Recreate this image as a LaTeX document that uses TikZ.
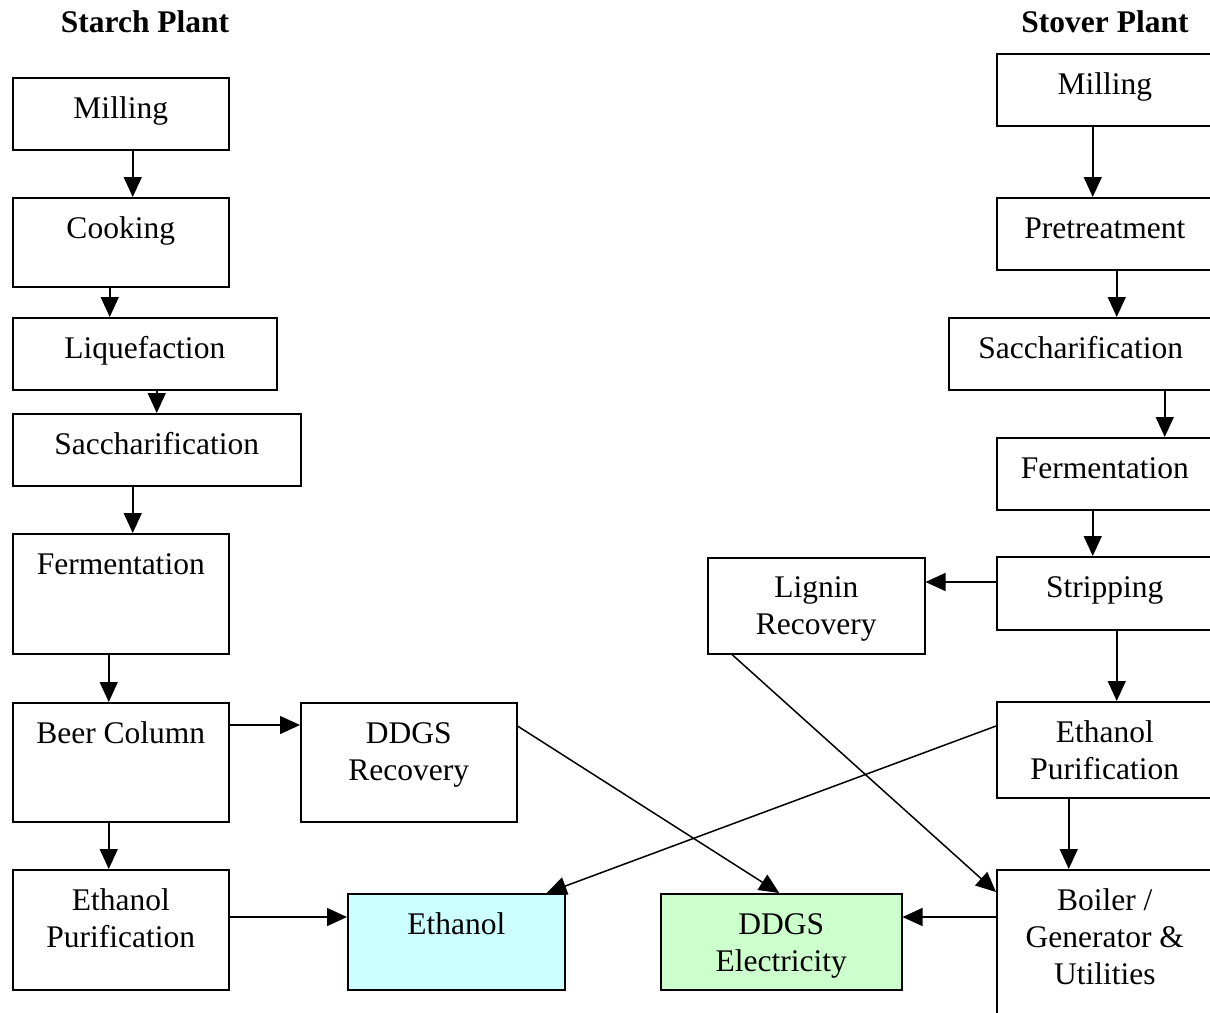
\documentclass[tikz,border=0pt]{standalone}
\usepackage{fontspec}
\setmainfont{Liberation Serif}
\usetikzlibrary{arrows.meta,calc}
% strut that fixes the height of the first text line in every box
\newcommand\firstln{\rule{0pt}{24pt}}
\begin{document}
\begin{tikzpicture}[x=1pt,y=-1pt,
  box/.style={draw, line width=1.5pt, inner sep=0pt, anchor=north west, fill=white},
  lbl/.style={anchor=north, inner sep=0pt, align=center,
              font=\fontsize{31.5}{37}\selectfont},
  ttl/.style={anchor=base, inner sep=0pt,
              font=\fontsize{31.5}{37}\selectfont\bfseries},
  arr/.style={line width=1.5pt, -{Triangle[length=20pt,width=18pt]}},
  prodA/.style={fill={rgb,255:red,204;green,255;blue,255}},
  prodB/.style={fill={rgb,255:red,204;green,255;blue,204}}]
\useasboundingbox (0,0) rectangle (1210,1012);
\clip (0,0) rectangle (1210,1012);

% titles
\node[ttl] (tstarch) at (145,32) {Starch Plant};
\node[ttl] (tstover) at (1105,32) {Stover Plant};

% starch plant boxes
\node[box, minimum width=216pt, minimum height=72pt]  (mill1) at (12,77) {};
\node[box, minimum width=216pt, minimum height=89pt]  (cook1) at (12,197) {};
\node[box, minimum width=264pt, minimum height=72pt]  (liq1) at (12,317) {};
\node[box, minimum width=288pt, minimum height=72pt]  (sac1) at (12,413) {};
\node[box, minimum width=216pt, minimum height=120pt] (ferm1) at (12,533) {};
\node[box, minimum width=216pt, minimum height=119pt] (beer1) at (12,702) {};
\node[box, minimum width=216pt, minimum height=120pt] (pur1) at (12,869) {};
\node[box, minimum width=216pt, minimum height=119pt] (ddgsrec) at (300,702) {};
\node[box, prodA, minimum width=217pt, minimum height=96pt] (ethanol) at (347,893) {};
\node[box, prodB, minimum width=241pt, minimum height=96pt] (ddgselec) at (660,893) {};

% stover plant boxes
\node[box, minimum width=216pt, minimum height=72pt]  (mill2) at (996,53) {};
\node[box, minimum width=216pt, minimum height=72pt]  (pre2) at (996,197) {};
\node[box, minimum width=264pt, minimum height=72pt]  (sac2) at (948,317) {};
\node[box, minimum width=216pt, minimum height=72pt]  (ferm2) at (996,437) {};
\node[box, minimum width=216pt, minimum height=73pt]  (strip2) at (996,556) {};
\node[box, minimum width=217pt, minimum height=96pt]  (lignin) at (707,557) {};
\node[box, minimum width=216pt, minimum height=96pt]  (pur2) at (996,701) {};
\node[box, minimum width=216pt, minimum height=160pt] (boiler) at (996,869) {};

% box texts
\node[lbl] (mill1t) at ([yshift=-17pt]mill1.north) {\firstln Milling};
\node[lbl] (cook1t) at ([yshift=-17pt]cook1.north) {\firstln Cooking};
\node[lbl] (liq1t) at ([yshift=-17pt]liq1.north) {\firstln Liquefaction};
\node[lbl] (sac1t) at ([yshift=-17pt]sac1.north) {\firstln Saccharification};
\node[lbl] (ferm1t) at ([yshift=-17pt]ferm1.north) {\firstln Fermentation};
\node[lbl] (beer1t) at ([yshift=-17pt]beer1.north) {\firstln Beer Column};
\node[lbl] (pur1t) at ([yshift=-17pt]pur1.north) {\firstln Ethanol\\Purification};
\node[lbl] (ddgsrect) at ([yshift=-17pt]ddgsrec.north) {\firstln DDGS\\Recovery};
\node[lbl] (ethanolt) at ([yshift=-17pt]ethanol.north) {\firstln Ethanol};
\node[lbl] (ddgselect) at ([yshift=-17pt]ddgselec.north) {\firstln DDGS\\Electricity};
\node[lbl] (mill2t) at ([yshift=-17pt]mill2.north) {\firstln Milling};
\node[lbl] (pre2t) at ([yshift=-17pt]pre2.north) {\firstln Pretreatment};
\node[lbl] (sac2t) at ([yshift=-17pt]sac2.north) {\firstln Saccharification};
\node[lbl] (ferm2t) at ([yshift=-17pt]ferm2.north) {\firstln Fermentation};
\node[lbl] (strip2t) at ([yshift=-17pt]strip2.north) {\firstln Stripping};
\node[lbl] (lignint) at ([yshift=-16pt]lignin.north) {\firstln Lignin\\Recovery};
\node[lbl] (pur2t) at ([yshift=-17pt]pur2.north) {\firstln Ethanol\\Purification};
\node[lbl] (boilert) at ([yshift=-17pt]boiler.north) {\firstln Boiler /\\Generator \&\\Utilities};

% starch plant flow
\draw[arr] ([xshift=12pt]mill1.south) -- ([xshift=12pt]mill1.south |- cook1.north);
\draw[arr] ([xshift=-11pt]cook1.south) -- ([xshift=-11pt]cook1.south |- liq1.north);
\draw[arr] ([xshift=12pt]liq1.south) -- ([xshift=12pt]liq1.south |- sac1.north);
\draw[arr] ([xshift=12pt]ferm1.north |- sac1.south) -- ([xshift=12pt]ferm1.north);
\draw[arr] ([xshift=-12pt]ferm1.south) -- ([xshift=-12pt]ferm1.south |- beer1.north);
\draw[arr] ([xshift=-12pt]beer1.south) -- ([xshift=-12pt]beer1.south |- pur1.north);
\draw[arr] ([yshift=-23pt]beer1.north east) -- ([yshift=-23pt]beer1.north east -| ddgsrec.west);
\draw[arr] ([yshift=-48pt]pur1.north east) -- ([yshift=-48pt]pur1.north east -| ethanol.west);

% stover plant flow
\draw[arr] ([xshift=-12pt]mill2.south) -- ([xshift=-12pt]mill2.south |- pre2.north);
\draw[arr] ([xshift=12pt]pre2.south) -- ([xshift=12pt]pre2.south |- sac2.north);
\draw[arr] ([xshift=60pt]ferm2.north |- sac2.south) -- ([xshift=60pt]ferm2.north);
\draw[arr] ([xshift=-12pt]ferm2.south) -- ([xshift=-12pt]ferm2.south |- strip2.north);
\draw[arr] ([yshift=-26pt]strip2.north west) -- ([yshift=-26pt]strip2.north west -| lignin.east);
\draw[arr] ([xshift=12pt]strip2.south) -- ([xshift=12pt]strip2.south |- pur2.north);
\draw[arr] ([xshift=-36pt]pur2.south) -- ([xshift=-36pt]pur2.south |- boiler.north);
\draw[arr] ([yshift=-48pt]boiler.north west) -- ([yshift=-48pt]boiler.north west -| ddgselec.east);

% cross connections
\draw[arr] ([yshift=-24pt]ddgsrec.north east) -- ([xshift=-2pt]ddgselec.north);
\draw[arr] ([yshift=-25pt]pur2.north west) -- ([xshift=-19pt]ethanol.north east);
\draw[arr] ([xshift=25pt]lignin.south west) -- ([yshift=-23pt]boiler.north west);
\end{tikzpicture}
\end{document}
